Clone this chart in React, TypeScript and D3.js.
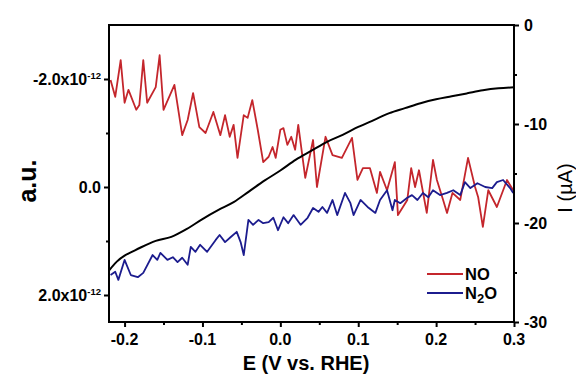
import React, { useRef, useEffect } from 'react';
import * as d3 from 'd3';

// NO signal (a.u., in units of 1e-12), [E, value]
const noTrace: [number, number][] = [
  [-0.218, -1.98], [-0.212, -1.67], [-0.205, -2.35], [-0.2, -1.56], [-0.195, -1.8],
  [-0.185, -1.43], [-0.181, -1.52], [-0.176, -2.35], [-0.171, -1.56], [-0.16, -1.85],
  [-0.155, -2.44], [-0.15, -1.43], [-0.136, -1.89], [-0.126, -0.96], [-0.119, -1.24],
  [-0.112, -1.74], [-0.104, -1.11], [-0.096, -1.0], [-0.086, -1.39], [-0.077, -0.96],
  [-0.071, -1.33], [-0.065, -0.93], [-0.06, -1.15], [-0.055, -0.54], [-0.047, -1.33],
  [-0.042, -1.28], [-0.036, -1.61], [-0.029, -1.06], [-0.022, -0.46], [-0.015, -0.56],
  [-0.01, -0.74], [-0.006, -0.54], [0.0, -1.06], [0.004, -1.09], [0.009, -0.78],
  [0.014, -0.93], [0.019, -0.69], [0.023, -1.15], [0.032, -0.17], [0.042, -0.87],
  [0.047, 0.0], [0.058, -0.93], [0.067, -0.59], [0.079, -0.54], [0.092, -0.91],
  [0.099, -0.13], [0.106, -0.35], [0.115, -0.35], [0.124, 0.11], [0.128, -0.28],
  [0.137, 0.06], [0.147, -0.46], [0.151, 0.52], [0.163, 0.24], [0.168, -0.35],
  [0.173, 0.0], [0.178, -0.31], [0.188, 0.48], [0.196, -0.5], [0.201, -0.13],
  [0.209, 0.24], [0.214, 0.48], [0.221, 0.11], [0.231, 0.24], [0.241, -0.54],
  [0.25, 0.0], [0.254, 0.19], [0.26, 0.74], [0.267, 0.06], [0.278, 0.37],
  [0.291, -0.13], [0.299, 0.06],
];

// N2O signal (a.u., in units of 1e-12), [E, value]
const n2oTrace: [number, number][] = [
  [-0.218, 1.63], [-0.212, 1.57], [-0.208, 1.72], [-0.2, 1.35], [-0.192, 1.63],
  [-0.183, 1.67], [-0.176, 1.59], [-0.164, 1.26], [-0.158, 1.35], [-0.154, 1.22],
  [-0.145, 1.35], [-0.138, 1.3], [-0.132, 1.39], [-0.126, 1.31], [-0.119, 1.44],
  [-0.115, 1.11], [-0.109, 1.2], [-0.103, 1.07], [-0.094, 1.2], [-0.083, 0.98],
  [-0.078, 0.89], [-0.071, 1.02], [-0.064, 0.93], [-0.056, 0.83], [-0.051, 1.02],
  [-0.047, 1.26], [-0.041, 0.61], [-0.035, 0.7], [-0.028, 0.61], [-0.022, 0.67],
  [-0.015, 0.65], [-0.009, 0.57], [-0.003, 0.8], [0.004, 0.56], [0.01, 0.67],
  [0.017, 0.52], [0.026, 0.7], [0.035, 0.57], [0.042, 0.39], [0.049, 0.46],
  [0.054, 0.37], [0.06, 0.48], [0.067, 0.24], [0.073, 0.52], [0.083, 0.11],
  [0.09, 0.3], [0.094, 0.52], [0.103, 0.24], [0.112, 0.37], [0.122, 0.48],
  [0.128, 0.24], [0.137, 0.06], [0.144, 0.43], [0.147, 0.24], [0.154, 0.3],
  [0.163, 0.2], [0.169, 0.15], [0.176, 0.24], [0.183, 0.11], [0.19, 0.19],
  [0.196, 0.06], [0.205, 0.15], [0.214, 0.11], [0.222, 0.06], [0.231, 0.15],
  [0.237, -0.09], [0.244, 0.02], [0.253, -0.07], [0.263, 0.0], [0.272, 0.02],
  [0.278, -0.09], [0.286, -0.13], [0.295, 0.02], [0.299, 0.11],
];

// current (µA), [E, I]
const currentTrace: [number, number][] = [
  [-0.22, -24.8], [-0.21, -23.9], [-0.2, -23.3], [-0.19, -22.9], [-0.18, -22.5],
  [-0.16, -21.8], [-0.14, -21.4], [-0.12, -20.6], [-0.1, -19.6], [-0.08, -18.7],
  [-0.06, -17.9], [-0.04, -16.8], [-0.02, -15.7], [0.0, -14.7], [0.02, -13.6],
  [0.04, -12.7], [0.06, -11.8], [0.08, -11.1], [0.1, -10.3], [0.12, -9.6],
  [0.14, -8.9], [0.16, -8.4], [0.18, -7.9], [0.2, -7.5], [0.22, -7.2],
  [0.24, -6.9], [0.26, -6.6], [0.28, -6.4], [0.3, -6.3],
];

const xTicks = [-0.2, -0.1, 0.0, 0.1, 0.2, 0.3];
const xMinor = [-0.15, -0.05, 0.05, 0.15, 0.25];
const leftTicks = [-2, 0, 2];
const leftMinor = [-1, 1];
const rightTicks = [0, -10, -20, -30];
const rightMinor = [-5, -15, -25];

const RED = '#c4262c';
const BLUE = '#1c1c8e';
const FONT = '"Liberation Sans", Arial, sans-serif';

const App: React.FC = () => {
  const svgRef = useRef<SVGSVGElement>(null);
  const width = 576;
  const height = 374;

  useEffect(() => {
    if (!svgRef.current) return;
    const svg = d3.select(svgRef.current);
    svg.selectAll('*').remove();

    const left = 109, right = 514, top = 25, bottom = 322;

    const x = d3.scaleLinear().domain([-0.22, 0.3]).range([left, right]);
    const yL = d3.scaleLinear().domain([-3.0, 2.5]).range([top, bottom]);
    const yR = d3.scaleLinear().domain([0, -30]).range([top, bottom]);

    // traces
    const lineL = d3.line<[number, number]>().x(d => x(d[0])).y(d => yL(d[1]));
    const lineR = d3.line<[number, number]>().x(d => x(d[0])).y(d => yR(d[1])).curve(d3.curveMonotoneX);

    svg.append('path').datum(noTrace).attr('d', lineL)
      .attr('fill', 'none').attr('stroke', RED).attr('stroke-width', 1.8).attr('stroke-linejoin', 'round');
    svg.append('path').datum(n2oTrace).attr('d', lineL)
      .attr('fill', 'none').attr('stroke', BLUE).attr('stroke-width', 1.8).attr('stroke-linejoin', 'round');
    svg.append('path').datum(currentTrace).attr('d', lineR)
      .attr('fill', 'none').attr('stroke', '#000').attr('stroke-width', 2);

    // frame
    svg.append('rect')
      .attr('x', left).attr('y', top)
      .attr('width', right - left).attr('height', bottom - top)
      .attr('fill', 'none').attr('stroke', '#000').attr('stroke-width', 2);

    const styleAxis = (g: d3.Selection<SVGGElement, unknown, null, undefined>) => {
      g.select('.domain').remove();
      g.selectAll('line').attr('stroke', '#000').attr('stroke-width', 2);
      g.selectAll('text').remove();
    };

    // bottom axis
    svg.append('g').attr('transform', `translate(0,${bottom})`)
      .call(d3.axisBottom(x).tickValues(xTicks).tickSize(5)).call(styleAxis);
    svg.append('g').attr('transform', `translate(0,${bottom})`)
      .call(d3.axisBottom(x).tickValues(xMinor).tickSize(3)).call(styleAxis);
    xTicks.forEach(t => {
      svg.append('text')
        .attr('x', x(t)).attr('y', 345)
        .attr('text-anchor', 'middle')
        .attr('font-family', FONT).attr('font-size', '16px').attr('font-weight', 700)
        .text(t.toFixed(1));
    });

    // left axis
    svg.append('g').attr('transform', `translate(${left},0)`)
      .call(d3.axisLeft(yL).tickValues(leftTicks).tickSize(5)).call(styleAxis);
    svg.append('g').attr('transform', `translate(${left},0)`)
      .call(d3.axisLeft(yL).tickValues(leftMinor).tickSize(3)).call(styleAxis);
    leftTicks.forEach(t => {
      const txt = svg.append('text')
        .attr('x', 101).attr('y', yL(t) + 5.5)
        .attr('text-anchor', 'end')
        .attr('font-family', FONT).attr('font-size', '16px').attr('font-weight', 700);
      if (t === 0) {
        txt.text('0.0');
      } else {
        txt.append('tspan').text(`${t.toFixed(1)}x10`);
        txt.append('tspan').attr('dy', -6).attr('font-size', '9.5px').text('-12');
      }
    });

    // right axis
    svg.append('g').attr('transform', `translate(${right},0)`)
      .call(d3.axisRight(yR).tickValues(rightTicks).tickSize(5)).call(styleAxis);
    svg.append('g').attr('transform', `translate(${right},0)`)
      .call(d3.axisRight(yR).tickValues(rightMinor).tickSize(3)).call(styleAxis);
    rightTicks.forEach(t => {
      svg.append('text')
        .attr('x', 524).attr('y', yR(t) + 5.5)
        .attr('text-anchor', 'start')
        .attr('font-family', FONT).attr('font-size', '16px').attr('font-weight', 700)
        .text(t === 0 ? '0' : String(t));
    });

    // axis titles
    svg.append('text')
      .attr('transform', `translate(36,181) rotate(-90)`)
      .attr('text-anchor', 'middle')
      .attr('font-family', FONT).attr('font-size', '25px').attr('font-weight', 700)
      .text('a.u.');

    svg.append('text')
      .attr('transform', `translate(572,188) rotate(-90)`)
      .attr('text-anchor', 'middle')
      .attr('font-family', FONT).attr('font-size', '20px')
      .text('I (µA)');

    svg.append('text')
      .attr('x', 306).attr('y', 370)
      .attr('text-anchor', 'middle')
      .attr('font-family', FONT).attr('font-size', '20px').attr('font-weight', 700)
      .text('E (V vs. RHE)');

    // legend
    const legend = [
      { name: 'NO', color: RED, y: 274 },
      { name: 'N2O', color: BLUE, y: 293 },
    ];
    legend.forEach(l => {
      svg.append('line')
        .attr('x1', 427).attr('x2', 463).attr('y1', l.y).attr('y2', l.y)
        .attr('stroke', l.color).attr('stroke-width', 2);
      const t = svg.append('text')
        .attr('x', 465).attr('y', l.y + 6)
        .attr('font-family', FONT).attr('font-size', '16.5px').attr('font-weight', 700);
      if (l.name === 'NO') {
        t.text('NO');
      } else {
        t.append('tspan').text('N');
        t.append('tspan').attr('dy', 4).attr('font-size', '13px').text('2');
        t.append('tspan').attr('dy', -4).text('O');
      }
    });
  }, []);

  return (
    <svg
      ref={svgRef}
      width={width}
      height={height}
      style={{ position: 'absolute', left: 0, top: 0, background: '#fff' }}
    />
  );
};

export default App;
